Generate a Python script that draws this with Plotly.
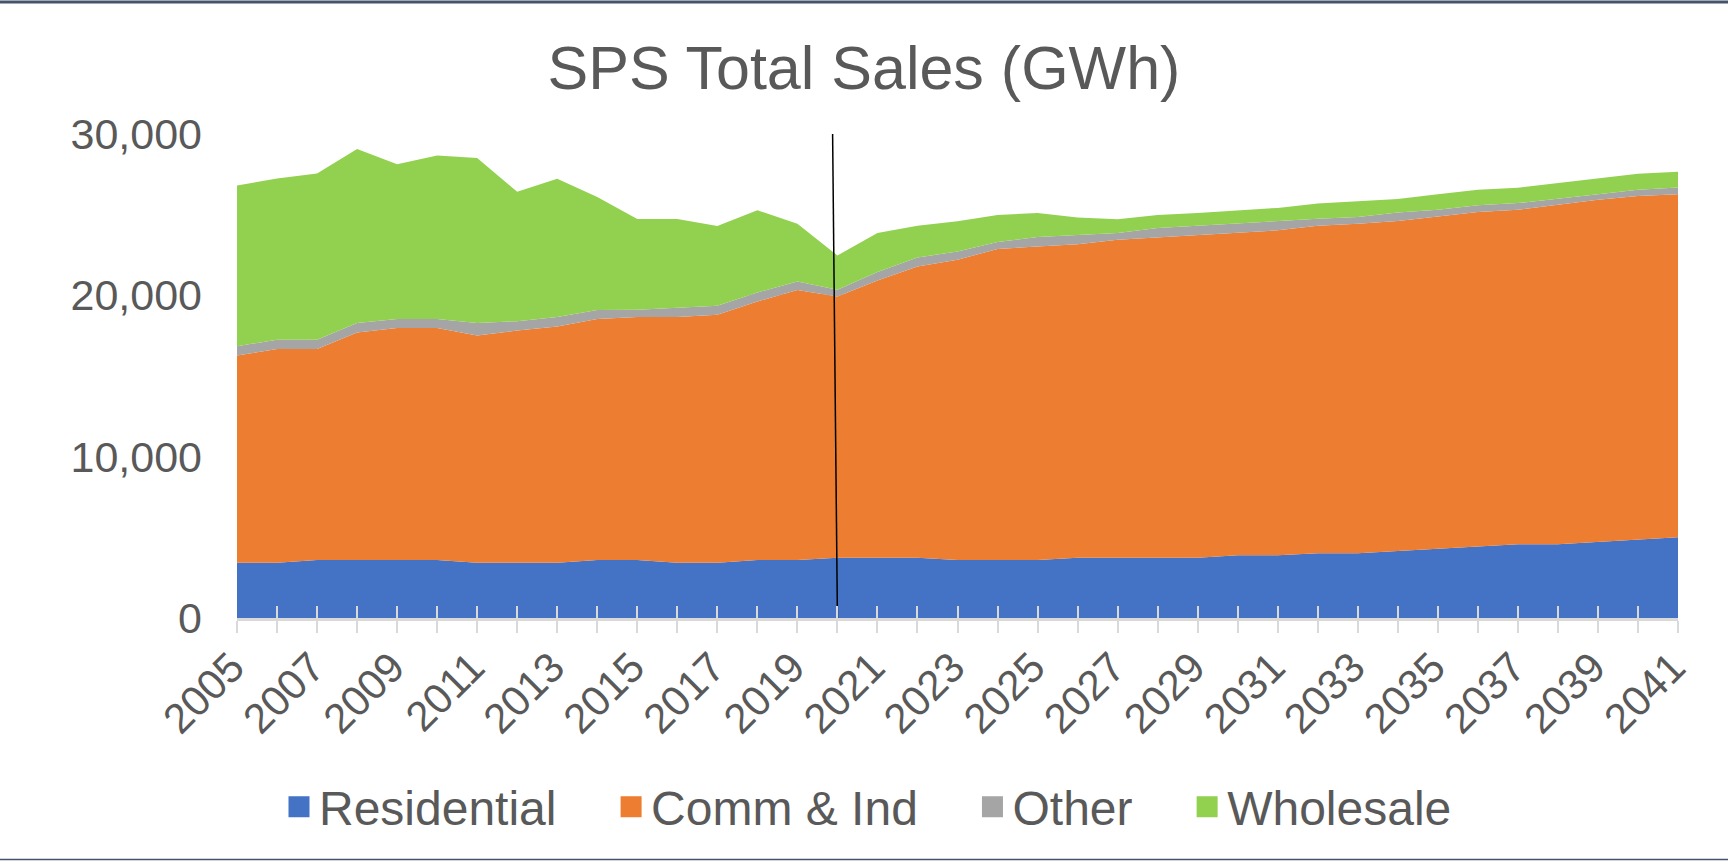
import plotly.graph_objects as go

years = list(range(2005, 2042))

residential = [3430, 3430, 3600, 3600, 3600, 3600, 3430, 3430, 3430, 3600,
               3600, 3430, 3430, 3600, 3600, 3740, 3740, 3740, 3600, 3600,
               3600, 3740, 3740, 3740, 3740, 3890, 3890, 4010, 4010, 4160,
               4300, 4430, 4570, 4570, 4720, 4860, 5000]

comm_ind = [12840, 13240, 13070, 14100, 14370, 14370, 14080, 14390, 14640, 14930,
            15050, 15220, 15370, 16020, 16730, 16190, 17185, 18050, 18610, 19270,
            19430, 19420, 19710, 19850, 20000, 19975, 20140, 20310, 20430, 20450,
            20590, 20740, 20740, 21030, 21210, 21300, 21260]

other = [580, 580, 580, 580, 560, 560, 770, 580, 580, 560,
         450, 580, 560, 560, 530, 415, 520, 560, 500, 430,
         580, 580, 420, 580, 580, 580, 560, 420, 420, 530,
         420, 410, 410, 370, 330, 390, 430]

wholesale = [9960, 9990, 10300, 10790, 9590, 10130, 10240, 8020, 8580, 7010,
             5630, 5500, 4940, 5090, 3580, 2130, 2420, 1970, 1880, 1680,
             1490, 1090, 850, 810, 790, 830, 830, 950, 970, 830,
             950, 970, 950, 990, 1020, 990, 970]

series_names = ["Residential", "Comm & Ind", "Other", "Wholesale"]
series_colors = ["#4472C4", "#ED7D31", "#A5A5A5", "#92D050"]

# history / forecast divider line
divider_x = [2019.88, 2020.0]
divider_y = [30000, 0]

y_tickvals = [0, 10000, 20000, 30000]
y_ticktext = ["0", "10,000", "20,000", "30,000"]

W, H = 1728, 861
ML, MR, MT, MB = 237, 50, 134, 243
FONT = "Liberation Sans, Arial, sans-serif"
TXT = "#595959"
GRID = "#D9D9D9"
PAD = "\u00a0\u00a0\u00a0\u2009"  # extra spacing between legend entries

fig = go.Figure()
for name, vals, col in zip(series_names, [residential, comm_ind, other, wholesale], series_colors):
    fig.add_trace(go.Scatter(
        x=years, y=vals, name=name, mode="lines", stackgroup="one",
        line=dict(width=0, color=col), fillcolor=col, showlegend=False,
        hoverinfo="x+y+name"))

# legend entries
for i, (name, col) in enumerate(zip(series_names, series_colors)):
    label = name + (PAD if i < len(series_names) - 1 else "")
    fig.add_trace(go.Scatter(
        x=[None], y=[None], name=label, mode="markers",
        marker=dict(symbol="square", size=16, color=col, line=dict(color=col, width=5)),
        showlegend=True))

fig.add_trace(go.Scatter(x=divider_x, y=divider_y, mode="lines",
                         line=dict(color="black", width=1.5), showlegend=False,
                         hoverinfo="skip"))

# inside ticks overlay axis
fig.add_trace(go.Scatter(x=[None], y=[None], xaxis="x2", showlegend=False))

plot_h = H - MT - MB
plot_w = W - ML - MR
top_y = 1 + (MT - 2) / plot_h
bot_y = -(MB - 1.5) / plot_h

fig.update_layout(
    width=W, height=H,
    margin=dict(l=ML, r=MR, t=MT, b=MB, autoexpand=False),
    paper_bgcolor="white", plot_bgcolor="white",
    font=dict(family=FONT, color=TXT),
    title=dict(text="SPS Total Sales (GWh)", x=0.5, xref="container", xanchor="center",
               y=1 - 68 / H, yref="container", yanchor="middle",
               font=dict(size=61, color=TXT, family=FONT)),
    xaxis=dict(range=[2005, 2041], tickmode="linear", tick0=2005, dtick=2,
               ticks="outside", ticklen=12, tickwidth=1.5, tickcolor=GRID,
               minor=dict(tickmode="linear", tick0=2005, dtick=1, ticks="outside",
                          ticklen=12, tickwidth=1.5, tickcolor=GRID, showgrid=False),
               showline=True, linecolor=GRID, linewidth=2.5, showgrid=False,
               zeroline=False, tickangle=-45, tickfont=dict(size=42, color=TXT),
               ticklabelstandoff=-7, ticklabelshift=-5, automargin=False),
    xaxis2=dict(range=[2005, 2041], overlaying="x", tickmode="linear", tick0=2005, dtick=1,
                ticks="inside", ticklen=12, tickwidth=1.5, tickcolor=GRID,
                showticklabels=False, showgrid=False, zeroline=False, showline=False,
                side="bottom"),
    yaxis=dict(range=[0, 30000], tickvals=y_tickvals, ticktext=y_ticktext,
               showgrid=True, gridcolor=GRID, gridwidth=2, zeroline=False,
               showline=False, ticks="", tickfont=dict(size=43, color=TXT),
               ticklabelstandoff=34, automargin=False),
    legend=dict(orientation="h", xref="paper", x=(868 - ML) / plot_w, xanchor="center",
                y=(MT + plot_h - 807) / plot_h, yanchor="middle",
                font=dict(size=48, color=TXT), bgcolor="rgba(0,0,0,0)",
                traceorder="normal"),
    shapes=[
        dict(type="line", xref="paper", yref="paper", x0=-ML / plot_w, x1=1 + MR / plot_w,
             y0=top_y, y1=top_y, line=dict(color="#44546A", width=3)),
        dict(type="line", xref="paper", yref="paper", x0=-ML / plot_w, x1=1 + MR / plot_w,
             y0=bot_y, y1=bot_y, line=dict(color="#44546A", width=1.5)),
    ],
    showlegend=True,
)

fig.write_html("out.html", config={"displayModeBar": False},
               post_script="document.body.style.margin='0px';")
